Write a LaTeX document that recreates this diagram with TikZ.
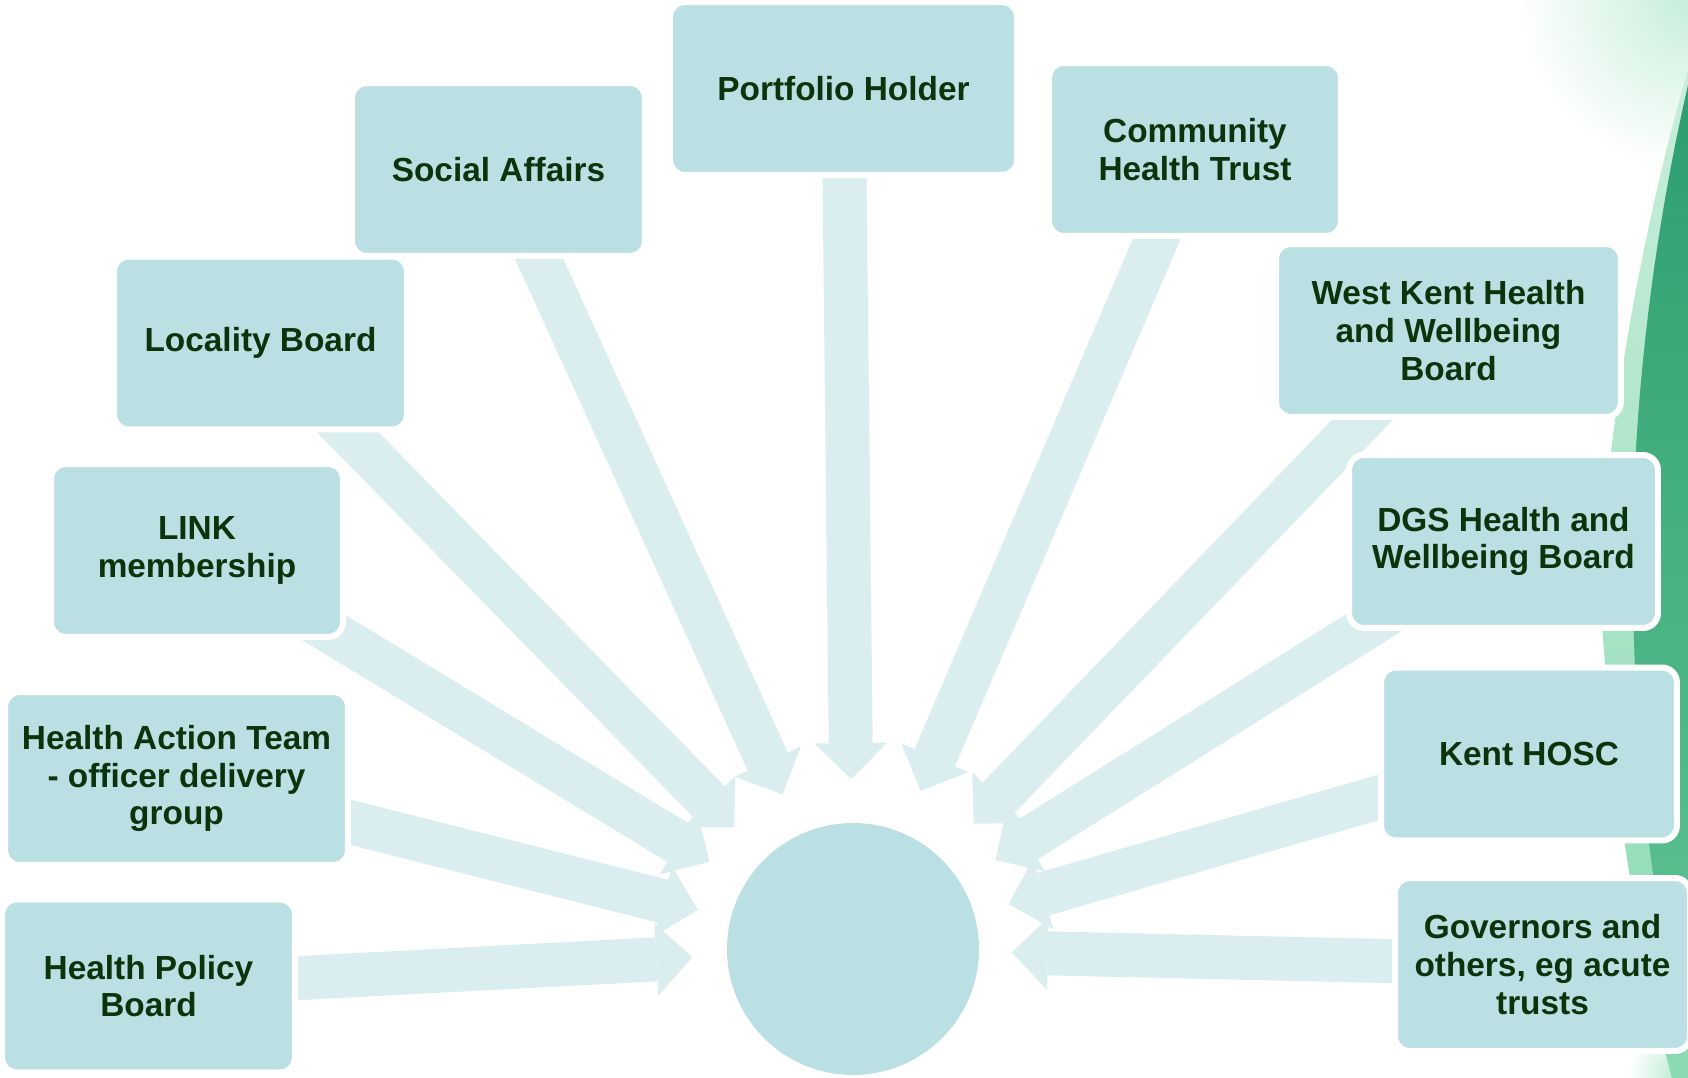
\documentclass[tikz,border=0pt]{standalone}
\usepackage{fontspec}
\setmainfont{Liberation Sans}
\usetikzlibrary{arrows.meta,calc,backgrounds}

\definecolor{boxfill}{RGB}{187,224,227}
\definecolor{spokefill}{RGB}{218,237,239}
\definecolor{ink}{RGB}{12,52,12}
\definecolor{leafdark}{RGB}{46,158,110}
\definecolor{leafmid}{RGB}{96,196,148}
\definecolor{leaflight}{RGB}{138,218,178}
\definecolor{leafpale}{RGB}{200,238,218}

\tikzset{
  board/.style={rectangle, rounded corners=0.3cm, fill=boxfill, draw=white,
    line width=0.12cm, minimum height=3.46cm, inner sep=0pt, align=center,
    text=ink, font=\bfseries\fontsize{19}{21.5}\selectfont},
  spoke/.style={draw=spokefill, line width=0.88cm,
    -{Triangle[width=1.46cm,length=0.72cm,line width=0pt]}},
}

\begin{document}
\begin{tikzpicture}[x=0.02cm,y=-0.02cm]
  \useasboundingbox (0,0) rectangle (1688,1078);

  % boards round the hub, left side top to bottom then right side
  \node[board, minimum width=6.94cm] (ph)   at (843.5,88.5)  {Portfolio Holder};
  \node[board, minimum width=5.86cm] (soc)  at (498.5,169.5) {Social Affairs};
  \node[board, minimum width=5.86cm] (loc)  at (260.5,343)   {Locality Board};
  \node[board, minimum width=5.84cm] (link) at (197,550.5)   {LINK\\membership};
  \node[board, minimum width=6.86cm] (hat)  at (176.5,778.5) {Health Action Team\\- officer delivery\\group};
  \node[board, minimum width=5.86cm] (hpb)  at (148.5,986)   {Health Policy\\Board};
  \node[board, minimum width=5.84cm] (cht)  at (1195,149.5)  {Community\\Health Trust};
  \node[board, minimum width=6.90cm] (wk)   at (1448.5,330.5){West Kent Health\\and Wellbeing\\Board};
  \node[board, minimum width=6.18cm] (dgs)  at (1503.5,541.5){DGS Health and\\Wellbeing Board};
  \node[board, minimum width=5.92cm] (hosc) at (1529,754)    {Kent HOSC};
  \node[board, minimum width=5.90cm] (gov)  at (1542.5,964.5){Governors and\\others, eg acute\\trusts};

  \node[circle, fill=boxfill, inner sep=0pt, minimum size=5.04cm] (hub) at (853,949) {};

  \begin{pgfonlayer}{background}
    % green leaf along the right edge
    \begin{scope}
      \clip (0,0) rectangle (1688,1078);
      \shade[inner color=leafpale, outer color=white] (1688,0) circle (170);
      \shade[inner color=leaflight!70!white, outer color=white] (1688,1078) circle (60);
    \end{scope}
    \shade[top color=leafpale, bottom color=leaflight]
      (1688,70) .. controls (1635,250) and (1590,520) .. (1604,650)
      .. controls (1614,800) and (1640,960) .. (1672,1078) -- (1688,1078) -- cycle;
    \shade[top color=leafdark, bottom color=leafmid]
      (1688,85) .. controls (1650,250) and (1626,450) .. (1634,640)
      .. controls (1638,800) and (1660,950) .. (1688,1040) -- cycle;

    % spokes from each board into the hub
    \foreach \b/\r in {hpb/3.22, hat/3.2, link/3.36, loc/3.4, soc/3.4, ph/3.4,
                       cht/3.44, wk/3.48, dgs/3.36, hosc/3.24, gov/3.18}
      \draw[spoke] (\b.center) -- ($(hub.center)!\r cm!(\b.center)$);
  \end{pgfonlayer}
\end{tikzpicture}
\end{document}
